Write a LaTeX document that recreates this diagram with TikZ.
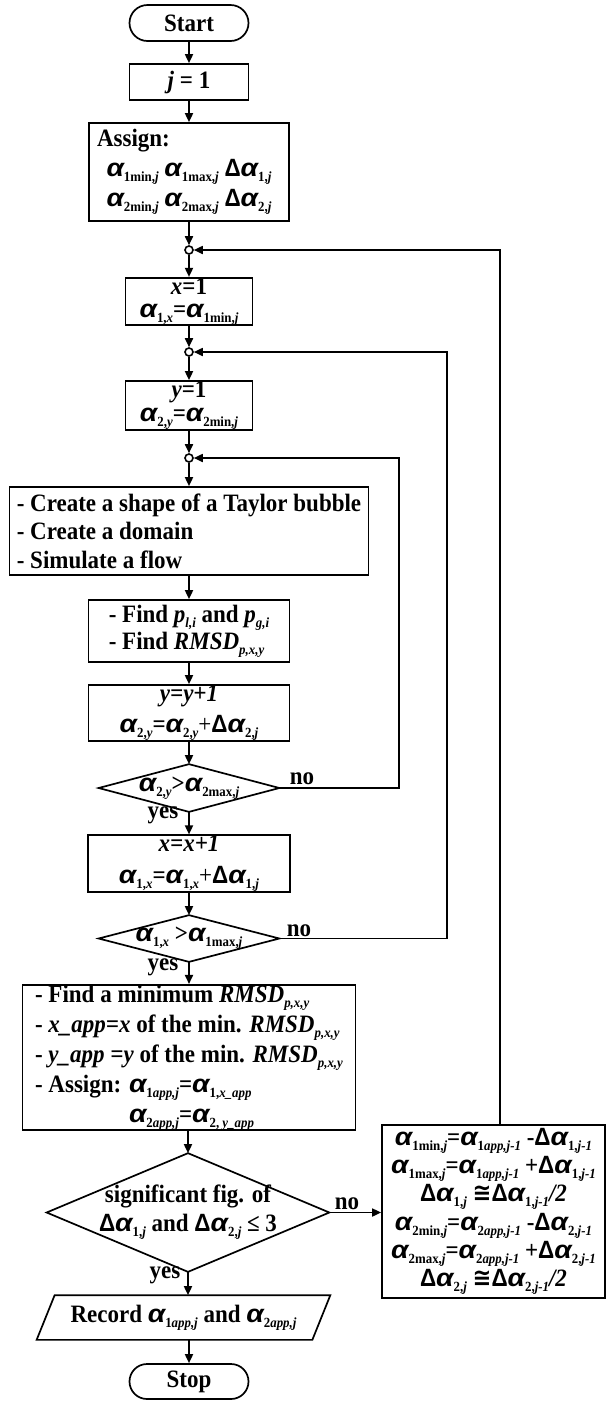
\documentclass[tikz,border=0pt]{standalone}
\usepackage{graphicx}
\usepackage{fontspec}
\setmainfont{Liberation Serif}[FakeStretch=0.92]
\newfontfamily\gkf{Liberation Sans}[FakeStretch=0.9]
\newfontfamily\dvf{DejaVu Sans}[FakeStretch=0.9]
\usetikzlibrary{arrows.meta,shapes.misc,calc}
\newcommand\al{{\gkf\bfseries\itshape\scalebox{1.25}[1]{α}}}
\newcommand\Dl{{\gkf\bfseries Δ}}
\newcommand\lo[1]{\raisebox{-0.2em}{\fontsize{14}{14}\selectfont #1}}
\newcommand\apx{{\dvf\bfseries ≅}}
\tikzset{
  lh/.style={font=\bfseries\fontsize{25}{#1}\selectfont},
  base/.style={draw, line width=1.7pt, inner sep=0pt, lh=27, align=center},
  box/.style={base, rectangle},
  term/.style={base, rounded rectangle},
  dec/.style={base, draw=none},
  junc/.style={circle, draw, line width=1.6pt, minimum size=8pt, inner sep=0pt},
  arr/.style={line width=1.7pt, -{Triangle[length=9pt,width=8pt]}},
  plain/.style={line width=1.7pt},
  lbl/.style={lh=27, inner sep=0pt},
}
\begin{document}
\begin{tikzpicture}[x=1pt,y=-1pt]
\useasboundingbox (0,0) rectangle (606,1401);

\node[term, minimum width=119pt, minimum height=36pt] (start) at (189,23) {Start};
\node[box, minimum width=119pt, minimum height=36pt] (j1) at (189,82) {\textit{j} = 1};
\node[box, minimum width=200pt, minimum height=98pt, lh=30] (assign) at (189,172)
  {\makebox[184pt][l]{Assign:}\\
   \al\lo{1min,\textit{j}} \al\lo{1max,\textit{j}} \Dl\al\lo{1,\textit{j}}\\
   \al\lo{2min,\textit{j}} \al\lo{2max,\textit{j}} \Dl\al\lo{2,\textit{j}}};
\node[junc] (c1) at (189,250) {};
\node[box, minimum width=127pt, minimum height=45pt, lh=23] (x1) at (189,301.5)
  {\textit{x}=1\\ \al\lo{1,\textit{x}}=\al\lo{1min,\textit{j}}};
\node[junc] (c2) at (189,352) {};
\node[box, minimum width=127pt, minimum height=49pt, lh=24.5] (y1) at (189,405.5)
  {\textit{y}=1\\ \al\lo{2,\textit{y}}=\al\lo{2min,\textit{j}}};
\node[junc] (c3) at (189,458) {};
\node[box, minimum width=359pt, minimum height=88pt, lh=28.5, align=left] (sim) at (189,531)
  {- Create a shape of a Taylor bubble\\- Create a domain\\- Simulate a flow};
\node[box, minimum width=201pt, minimum height=62pt, lh=27, align=left] (find) at (189,631)
  {- Find \textit{p}\lo{\textit{l,i}} and \textit{p}\lo{\textit{g,i}}\\- Find \textit{RMSD}\lo{\textit{p,x,y}}};
\node[box, minimum width=201pt, minimum height=56pt, lh=31] (yinc) at (189,713)
  {\textit{y=y+1}\\ \al\lo{2,\textit{y}}=\al\lo{2,\textit{y}}{\mdseries +}\Dl\al\lo{2,\textit{j}}};
\node[dec, minimum width=179pt, minimum height=46pt] (d1) at (189,788)
  {\al\lo{2,\textit{y}}>\al\lo{2max,\textit{j}}};
\node[box, minimum width=202pt, minimum height=56pt, lh=32] (xinc) at (189,863.5)
  {\textit{x=x+1}\\ \al\lo{1,\textit{x}}=\al\lo{1,\textit{x}}{\mdseries +}\Dl\al\lo{1,\textit{j}}};
\node[dec, minimum width=179pt, minimum height=45pt] (d2) at (189,938.5)
  {\al\lo{1,\textit{x}} >\al\lo{1max,\textit{j}}};
\node[box, minimum width=333pt, minimum height=145pt, lh=30, align=left] (res) at (189,1057.5)
  {- Find a minimum \textit{RMSD}\lo{\textit{p,x,y}}\\
   - \textit{x\_app=x} of the min. \textit{RMSD}\lo{\textit{p,x,y}}\\
   - \textit{y\_app =y} of the min. \textit{RMSD}\lo{\textit{p,x,y}}\\
   - Assign: \al\lo{1\textit{app,j}}=\al\lo{1,\textit{x\_app}}\\
   \phantom{- Assign: }\al\lo{2\textit{app,j}}=\al\lo{2, \textit{y\_app}}};
\node[dec, minimum width=281pt, minimum height=117pt, lh=29] (d3) at (188,1212.5)
  {significant fig. of\\ \Dl\al\lo{1,\textit{j}} and \Dl\al\lo{2,\textit{j}} ≤ 3};
\node[dec, minimum width=274pt, minimum height=43pt] (pr) at (183.5,1317.5)
  {Record \al\lo{1\textit{app,j}} and \al\lo{2\textit{app,j}}};
\node[term, minimum width=119pt, minimum height=35pt] (stop) at (189,1381.5) {Stop};
\node[box, minimum width=223pt, minimum height=173pt, lh=28.3] (rbox) at (493.5,1211.5)
  {\al\lo{1min,\textit{j}}=\al\lo{1\textit{app,j-1}} -\Dl\al\lo{1,\textit{j-1}}\\
   \al\lo{1max,\textit{j}}=\al\lo{1\textit{app,j-1}} +\Dl\al\lo{1,\textit{j-1}}\\
   \Dl\al\lo{1,\textit{j}} \apx\Dl\al\lo{1,\textit{j-1}}\textit{/2}\\
   \al\lo{2min,\textit{j}}=\al\lo{2\textit{app,j-1}} -\Dl\al\lo{2,\textit{j-1}}\\
   \al\lo{2max,\textit{j}}=\al\lo{2\textit{app,j-1}} +\Dl\al\lo{2,\textit{j-1}}\\
   \Dl\al\lo{2,\textit{j}} \apx\Dl\al\lo{2,\textit{j-1}}\textit{/2}};

% diamond and parallelogram outlines
\draw[plain] (d1.north) -- (d1.east) -- (d1.south) -- (d1.west) -- cycle;
\draw[plain] (d2.north) -- (d2.east) -- (d2.south) -- (d2.west) -- cycle;
\draw[plain] (d3.north) -- (d3.east) -- (d3.south) -- (d3.west) -- cycle;
\draw[plain] ($(pr.north west)+(9,0)$) -- ($(pr.north east)+(9,0)$) -- ($(pr.south east)+(-9,0)$) -- ($(pr.south west)+(-9,0)$) -- cycle;

% labels
\node[lbl] (no1) at (302,779) {no};
\node[lbl] (no2) at (299,931) {no};
\node[lbl] (no3) at (347,1204) {no};
\node[lbl] (yes1) at (163,815) {yes};
\node[lbl] (yes2) at (163,967) {yes};
\node[lbl] (yes3) at (165,1275) {yes};

% connectors
\draw[arr] (start) -- (j1);
\draw[arr] (j1) -- (assign);
\draw[arr] (assign) -- (c1);
\draw[arr] (c1) -- (x1);
\draw[arr] (x1) -- (c2);
\draw[arr] (c2) -- (y1);
\draw[arr] (y1) -- (c3);
\draw[arr] (c3) -- (sim);
\draw[arr] (sim) -- (find);
\draw[arr] (find) -- (yinc);
\draw[arr] (yinc) -- (d1.north);
\draw[arr] (d1.south) -- (xinc);
\draw[arr] (xinc) -- (d2.north);
\draw[arr] (d2.south) -- (res);
\draw[arr] (res.south -| d3.north) -- (d3.north);
\draw[arr] (d3.south) -- (d3.south |- pr.north);
\draw[arr] (pr.south -| stop.north) -- (stop.north);
\draw[arr] (d3.east) -- (d3.east -| rbox.west);

\coordinate (k1) at (399,788);
\coordinate (k2) at (447,938.5);
\coordinate (k3) at (500,250);
\draw[arr] (d1.east) -- (k1) |- (c3);
\draw[arr] (d2.east) -- (k2) |- (c2);
\draw[arr] (rbox.north -| k3) -- (k3) -- (c1);
\end{tikzpicture}
\end{document}
